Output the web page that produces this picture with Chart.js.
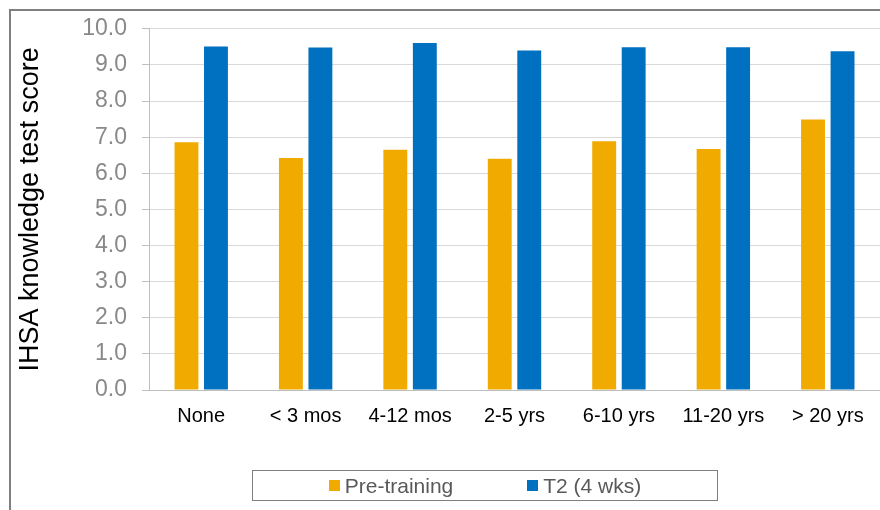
<!DOCTYPE html>
<html>
<head>
<meta charset="utf-8">
<script src="https://cdn.jsdelivr.net/npm/chart.js@4"></script>
<style>
  html, body { margin: 0; padding: 0; background: #fff; overflow: hidden; }
  .wrap { position: relative; width: 880px; height: 510px; }
  .frame { position: absolute; left: 9px; top: 9px; width: 900px; height: 600px; border: 2px solid #7f7f7f; box-sizing: border-box; }
  canvas { position: absolute; left: 0; top: 0; }
  .legend {
    position: absolute; left: 252px; top: 470px; width: 466px; height: 31px;
    border: 1px solid #7f7f7f; box-sizing: border-box;
    display: flex; justify-content: center; align-items: center; gap: 74px;
    font: 21px "Liberation Sans", Arial, sans-serif; color: #595959;
  }
  .legend span.item { display: flex; align-items: center; gap: 5px; }
  .legend i { display: inline-block; width: 11px; height: 11px; }
</style>
</head>
<body>
<div class="wrap">
  <div class="frame"></div>
  <canvas id="chart" width="880" height="510"></canvas>
  <div class="legend" id="legend"></div>
</div>
<script>
// Data
const categories = ['None', '< 3 mos', '4-12 mos', '2-5 yrs', '6-10 yrs', '11-20 yrs', '> 20 yrs'];
const preTraining = [6.86, 6.42, 6.65, 6.40, 6.89, 6.67, 7.49];
const t2FourWeeks = [9.51, 9.48, 9.61, 9.40, 9.49, 9.49, 9.38];
const seriesNames = ['Pre-training', 'T2 (4 wks)'];
const seriesColors = ['#f0aa00', '#0070c0'];

const fontFamily = '"Liberation Sans", Arial, sans-serif';

const chart = new Chart(document.getElementById('chart'), {
  type: 'bar',
  data: {
    labels: categories,
    datasets: [
      { label: seriesNames[0], data: preTraining, backgroundColor: seriesColors[0], barPercentage: 0.81, categoryPercentage: 0.565 },
      { label: seriesNames[1], data: t2FourWeeks, backgroundColor: seriesColors[1], barPercentage: 0.81, categoryPercentage: 0.565 }
    ]
  },
  options: {
    responsive: false,
    animation: false,
    layout: { padding: { top: 24, right: 0, left: 0, bottom: 0 } },
    plugins: { legend: { display: false }, tooltip: { enabled: false } },
    scales: {
      x: {
        grid: { display: false, drawTicks: false },
        border: { display: true, color: '#bfbfbf', width: 1 },
        ticks: { color: '#000', font: { family: fontFamily, size: 20 }, padding: 14, maxRotation: 0, autoSkip: false },
        afterFit: s => { s.height = 120; }
      },
      y: {
        min: 0, max: 10,
        grid: {
          color: c => (c.tick && c.tick.value % 1 === 0) ? '#d9d9d9' : '#f2f2f2',
          tickColor: '#bfbfbf',
          tickLength: 7,
          lineWidth: 1
        },
        border: { display: true, color: '#bfbfbf', width: 1 },
        ticks: {
          stepSize: 0.5,
          color: '#898989',
          font: { family: fontFamily, size: 23 },
          padding: 15,
          callback: v => (v % 1 === 0) ? v.toFixed(1) : ''
        },
        title: {
          display: true,
          text: 'IHSA knowledge test score',
          color: '#000',
          font: { family: fontFamily, size: 27 },
          padding: { top: 14, bottom: 0 }
        },
        afterFit: s => { s.width = 149; }
      }
    }
  }
});

// Legend built from the datasets
const legendEl = document.getElementById('legend');
chart.data.datasets.forEach(ds => {
  const item = document.createElement('span');
  item.className = 'item';
  const sw = document.createElement('i');
  sw.style.background = ds.backgroundColor;
  const txt = document.createElement('span');
  txt.textContent = ds.label;
  item.appendChild(sw);
  item.appendChild(txt);
  legendEl.appendChild(item);
});
</script>
</body>
</html>
